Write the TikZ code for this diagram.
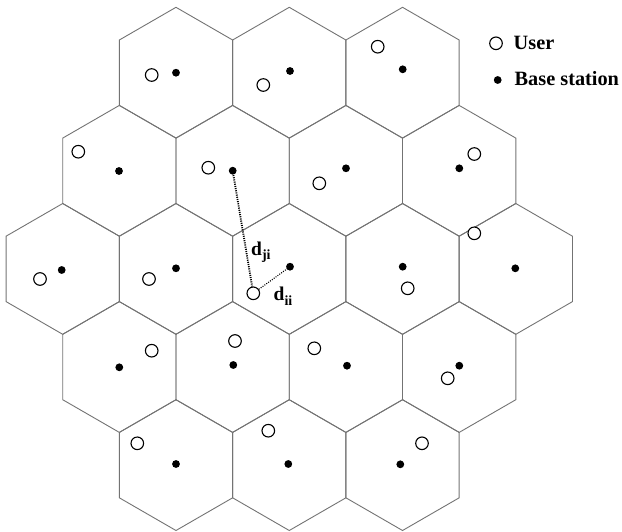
\documentclass[tikz,border=0pt]{standalone}
\usepackage{fontspec}
\setmainfont{Liberation Serif}
\begin{document}
\begin{tikzpicture}[x=1pt,y=-1pt,
  hexline/.style={draw=black!55,line width=0.9pt,line join=miter},
  bs/.style={circle,fill=black,inner sep=0pt,minimum size=7.8pt},
  usr/.style={circle,draw=black,line width=1.1pt,fill=white,inner sep=0pt,minimum size=12.6pt},
  lbl/.style={inner sep=0pt,anchor=base west,font=\fontsize{20.3}{21}\selectfont\bfseries},
  dlbl/.style={inner sep=0pt,anchor=base west,font=\fontsize{19.5}{20}\selectfont\bfseries},
  far/.style={line width=1.8pt,dash pattern=on 1.1pt off 1.1pt},
  near/.style={line width=1.1pt,dash pattern=on 1pt off 1.3pt}]
\useasboundingbox (0,0) rectangle (622,531);
\newcommand\hexcell[2]{%
  \draw[hexline] ({#1},{#2-65.4}) -- ({#1+56.64},{#2-32.7}) -- ({#1+56.64},{#2+32.7})
    -- ({#1},{#2+65.4}) -- ({#1-56.64},{#2+32.7}) -- ({#1-56.64},{#2-32.7}) -- cycle;}
% rows 1 and 5
\foreach \i in {1,2,3}{\hexcell{62.7+113.28*\i}{72.7}\hexcell{62.7+113.28*\i}{465.1}}
% rows 2 and 4
\foreach \i in {0,1,2,3}{\hexcell{119.34+113.28*\i}{170.8}\hexcell{119.34+113.28*\i}{367.0}}
% row 3
\foreach \i in {0,1,2,3,4}{\hexcell{62.7+113.28*\i}{268.9}}
% base stations
\node[bs] (b1) at (176,72.7) {};
\node[bs] (b2) at (290,71) {};
\node[bs] (b3) at (402.7,69.3) {};
\node[bs] (b4) at (119,171) {};
\node[bs] (b5) at (232.7,170.7) {};
\node[bs] (b6) at (346,168.3) {};
\node[bs] (b7) at (459.3,168.3) {};
\node[bs] (b8) at (61.7,270) {};
\node[bs] (b9) at (176,268.3) {};
\node[bs] (b10) at (290,266.7) {};
\node[bs] (b11) at (402.7,266.7) {};
\node[bs] (b12) at (515.3,268.3) {};
\node[bs] (b13) at (119.3,367.3) {};
\node[bs] (b14) at (233.3,365) {};
\node[bs] (b15) at (347,365.7) {};
\node[bs] (b16) at (459.3,365.7) {};
\node[bs] (b17) at (176,464) {};
\node[bs] (b18) at (288.3,464) {};
\node[bs] (b19) at (400.3,464.3) {};
% users
\node[usr] (u1) at (151.7,75) {};
\node[usr] (u2) at (263.3,85) {};
\node[usr] (u3) at (377.7,46.7) {};
\node[usr] (u4) at (78.3,151.7) {};
\node[usr] (u5) at (208.3,167.7) {};
\node[usr] (u6) at (319.3,183.3) {};
\node[usr] (u7) at (474.3,154) {};
\node[usr] (u8) at (40,279) {};
\node[usr] (u9) at (149,279) {};
\node[usr] (u10) at (253.3,293.3) {};
\node[usr] (u11) at (407.7,288.3) {};
\node[usr] (u12) at (474.3,233.3) {};
\node[usr] (u13) at (151.7,350.7) {};
\node[usr] (u14) at (235,341) {};
\node[usr] (u15) at (314.3,348.3) {};
\node[usr] (u16) at (447.7,378.3) {};
\node[usr] (u17) at (137.3,443.3) {};
\node[usr] (u18) at (268.3,430.7) {};
\node[usr] (u19) at (422,443.3) {};
% distances
\draw[far] (b5.center) -- (u10);
\draw[near] (u10) -- (b10.center);
\node[dlbl] (dji) at (251,255.5) {d{\fontsize{14}{14}\selectfont\raisebox{-3.5pt}{ji}}};
\node[dlbl] (dii) at (273.5,300.5) {d{\fontsize{14}{14}\selectfont\raisebox{-4.5pt}{ii}}};
% legend
\node[usr] (lu) at (496,43.3) {};
\node[lbl] (lut) at (513.5,49.5) {User};
\node[bs] (lb) at (497.7,80) {};
\node[lbl] (lbt) at (514.5,85.3) {Base station};
\end{tikzpicture}
\end{document}
